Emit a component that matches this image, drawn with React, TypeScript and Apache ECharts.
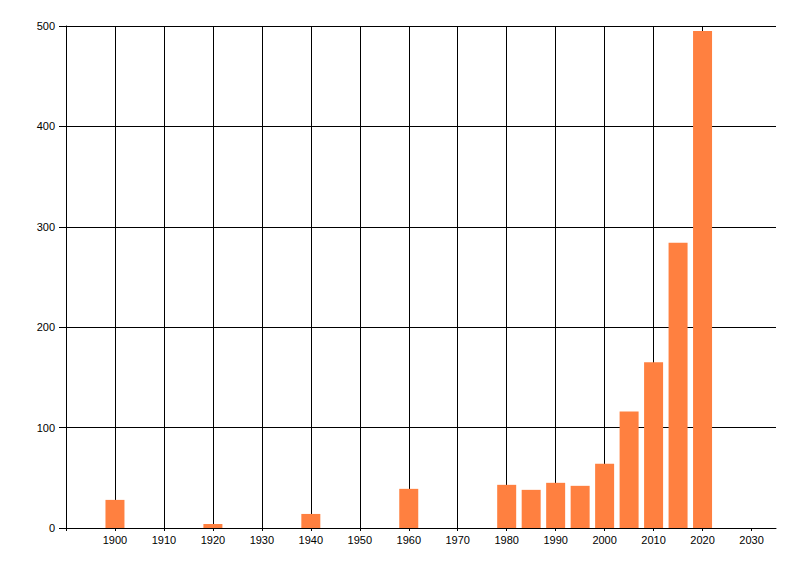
import React, { useEffect, useRef } from "react";
import * as echarts from "echarts";

const years = [1900, 1920, 1940, 1960, 1980, 1985, 1990, 1995, 2000, 2005, 2010, 2015, 2020];
const counts = [28, 4, 14, 39, 43, 38, 45, 42, 64, 116, 165, 284, 495];
const xTicks = [1890, 1900, 1910, 1920, 1930, 1940, 1950, 1960, 1970, 1980, 1990, 2000, 2010, 2020, 2030];
const xLabels = [1900, 1910, 1920, 1930, 1940, 1950, 1960, 1970, 1980, 1990, 2000, 2010, 2020, 2030];

export default function App() {
  const ref = useRef<HTMLDivElement>(null);
  useEffect(() => {
    if (!ref.current) return;
    const chart = echarts.init(ref.current, null, { renderer: "svg" });
    const font = "Liberation Sans";
    chart.setOption({
      animation: false,
      backgroundColor: "#ffffff",
      grid: { left: 58, right: 16, top: 18, bottom: 40, containLabel: false },
      xAxis: {
        type: "value",
        min: 1890,
        max: 2035,
        interval: 10,
        axisLine: { show: true, lineStyle: { color: "#000", width: 1 } },
        axisTick: { show: true, length: 3, lineStyle: { color: "#000" }, customValues: xTicks },
        axisLabel: {
          color: "#000",
          fontFamily: font,
          fontSize: 11,
          margin: 6,
          customValues: xLabels,
          formatter: (v: number) => String(v),
        },
        splitLine: { show: true, showMinLine: false, showMaxLine: false, lineStyle: { color: "#000", width: 1 } },
      },
      yAxis: {
        type: "value",
        min: 0,
        max: 500,
        interval: 100,
        axisLine: { show: true, lineStyle: { color: "#000", width: 1 } },
        axisTick: { show: true, length: 7, lineStyle: { color: "#000" } },
        axisLabel: { color: "#000", fontFamily: font, fontSize: 11, margin: 11 },
        splitLine: { show: true, lineStyle: { color: "#000", width: 1 } },
      },
      series: [
        {
          type: "bar",
          data: years.map((y, i) => [y, counts[i]]),
          barWidth: 19,
          itemStyle: { color: "#ff8040" },
          z: 3,
        },
      ],
    });
    return () => chart.dispose();
  }, []);
  return <div ref={ref} style={{ width: 784, height: 560 }} />;
}
